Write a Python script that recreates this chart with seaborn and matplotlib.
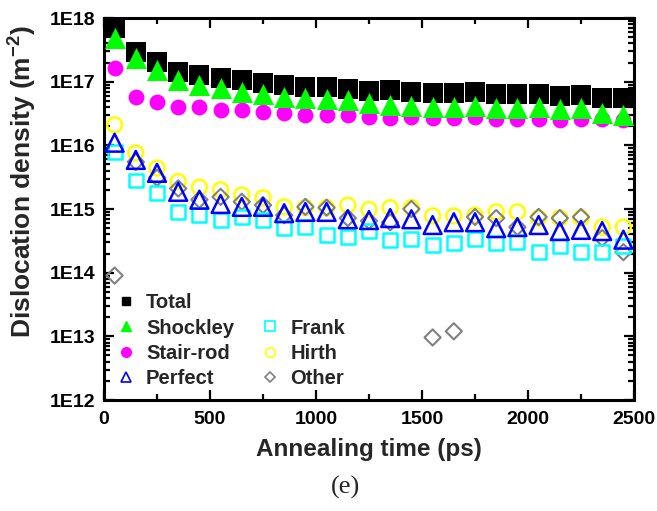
import numpy as np
import matplotlib
matplotlib.use("Agg")
import matplotlib.pyplot as plt
import seaborn as sns
from matplotlib.lines import Line2D
from matplotlib.ticker import LogLocator, MultipleLocator, NullFormatter

time = [50, 150, 250, 350, 450, 550, 650, 750, 850, 950, 1050, 1150, 1250,
        1350, 1450, 1550, 1650, 1750, 1850, 1950, 2050, 2150, 2250, 2350, 2450]

total = [7.0e17, 2.9e17, 2.05e17, 1.42e17, 1.27e17, 1.14e17, 1.07e17, 9.5e16, 8.9e16, 8.3e16, 8.3e16, 7.7e16, 7.1e16,
         7.4e16, 7.0e16, 6.7e16, 6.7e16, 7.0e16, 6.4e16, 6.4e16, 6.4e16, 5.9e16, 6.2e16, 5.6e16, 5.6e16]
shockley = [4.9e17, 2.35e17, 1.5e17, 1.07e17, 8.9e16, 7.9e16, 6.9e16, 6.4e16, 5.7e16, 5.5e16, 5.3e16, 5.2e16, 4.6e16,
            4.3e16, 4.2e16, 4.0e16, 4.0e16, 4.2e16, 3.9e16, 3.9e16, 4.0e16, 3.7e16, 3.9e16, 3.2e16, 3.0e16]
stair_rod = [1.63e17, 5.7e16, 4.8e16, 4.0e16, 4.0e16, 3.6e16, 3.6e16, 3.35e16, 3.2e16, 3.0e16, 3.0e16, 3.0e16, 2.8e16,
             2.7e16, 2.8e16, 2.7e16, 2.7e16, 2.8e16, 2.6e16, 2.6e16, 2.6e16, 2.5e16, 2.6e16, 2.6e16, 2.5e16]
frank = [7.9e15, 2.8e15, 1.8e15, 8.9e14, 8.0e14, 6.7e14, 7.5e14, 6.7e14, 5.0e14, 5.2e14, 3.9e14, 3.6e14, 4.5e14,
         3.3e14, 3.4e14, 2.7e14, 2.9e14, 3.4e14, 2.9e14, 3.0e14, 2.1e14, 2.6e14, 2.1e14, 2.1e14, 2.6e14]
hirth = [2.1e16, 7.6e15, 4.4e15, 2.7e15, 2.2e15, 2.0e15, 1.66e15, 1.5e15, 1.08e15, 1.05e15, 1.05e15, 1.15e15, 9.8e14,
         1.05e15, 1.05e15, 7.8e14, 7.8e14, 8.0e14, 9.0e14, 9.0e14, 7.2e14, 7.2e14, 7.2e14, 5.2e14, 5.2e14]
perfect = [1.1e16, 5.9e15, 3.7e15, 1.86e15, 1.4e15, 1.2e15, 1.08e15, 1.08e15, 8.6e14, 9.0e14, 9.0e14, 6.9e14, 6.7e14,
           7.2e14, 6.9e14, 5.6e14, 6.2e14, 6.2e14, 5.0e14, 5.2e14, 5.6e14, 4.5e14, 4.7e14, 4.5e14, 3.3e14]
other = [9.0e13, 5.5e15, 3.1e15, 2.1e15, 1.4e15, 1.55e15, 1.3e15, 1.15e15, 8.0e14, 1.08e15, 1.05e15, 7.2e14, 6.5e14,
         6.2e14, 1.0e15, 9.6e12, 1.2e13, 7.5e14, 7.2e14, 5.2e14, 7.5e14, 7.2e14, 7.5e14, 3.5e14, 2.1e14]

ytick_vals = [1e12, 1e13, 1e14, 1e15, 1e16, 1e17, 1e18]
ytick_labels = ["1E12", "1E13", "1E14", "1E15", "1E16", "1E17", "1E18"]
xtick_vals = [0, 500, 1000, 1500, 2000, 2500]

sns.set_style("ticks")
plt.rcParams['font.family'] = ['Liberation Sans', 'DejaVu Sans']
plt.rcParams['font.weight'] = 'bold'
plt.rcParams['mathtext.fontset'] = 'custom'
plt.rcParams['mathtext.rm'] = 'Liberation Sans:bold'
plt.rcParams['mathtext.bf'] = 'Liberation Sans:bold'
plt.rcParams['mathtext.it'] = 'Liberation Sans:bold'

fig = plt.figure(figsize=(6.57, 5.11), dpi=100)
ax = fig.add_axes([104/657, 1 - 400/511, 530/657, 382/511])

def filled(y, marker, color, s):
    sns.scatterplot(x=time, y=y, ax=ax, marker=marker, s=s, color=color,
                    edgecolor=color, linewidth=0, zorder=3, legend=False)

def hollow(y, marker, color, s, lw):
    sns.scatterplot(x=time, y=y, ax=ax, marker=marker, s=s, color=color,
                    facecolor='none', edgecolor=color, linewidth=lw, zorder=3, legend=False)

filled(total, 's', 'black', 190)
filled(stair_rod, 'o', '#ff00ff', 130)
filled(shockley, '^', '#00ff00', 230)
hollow(hirth, 'o', '#ffff00', 115, 1.8)
hollow(other, 'D', '#808080', 68, 1.5)
hollow(frank, 's', '#00ffff', 100, 1.8)
hollow(perfect, '^', '#0000ff', 165, 1.8)

ax.set_yscale('log')
ax.set_ylim(1e12, 1e18)
ax.set_xlim(0, 2500)
ax.set_yticks(ytick_vals)
ax.set_yticklabels(ytick_labels)
ax.yaxis.set_minor_locator(LogLocator(base=10, subs=np.arange(2, 10), numticks=20))
ax.yaxis.set_minor_formatter(NullFormatter())
ax.set_xticks(xtick_vals)
ax.set_xticklabels([str(v) for v in xtick_vals])
ax.xaxis.set_minor_locator(MultipleLocator(250))

ax.tick_params(which='both', direction='in', top=True, right=True, width=1.6, colors='black')
ax.tick_params(which='major', length=7, labelsize=14)
ax.tick_params(axis='x', which='major', pad=8)
ax.tick_params(axis='y', which='major', pad=6)
ax.tick_params(which='minor', length=4)
for lab in ax.get_xticklabels() + ax.get_yticklabels():
    lab.set_fontweight('bold')
for sp in ax.spines.values():
    sp.set_linewidth(2.2)
    sp.set_color('black')

ax.set_xlabel("Annealing time (ps)", fontsize=17.5, fontweight='bold', labelpad=7)
ax.set_ylabel("Dislocation density (m$^{\\mathbf{-2}}$)", fontsize=19, fontweight='bold')
ax.yaxis.set_label_coords(-0.122, 0.573)

handles = [
    Line2D([], [], ls='none', marker='s', ms=6, mfc='black', mec='black'),
    Line2D([], [], ls='none', marker='^', ms=7.5, mfc='#00ff00', mec='#00ff00'),
    Line2D([], [], ls='none', marker='o', ms=7, mfc='#ff00ff', mec='#ff00ff'),
    Line2D([], [], ls='none', marker='^', ms=7.5, mfc='none', mec='#0000ff', mew=1.2),
    Line2D([], [], ls='none', marker='none'),
    Line2D([], [], ls='none', marker='s', ms=6.5, mfc='none', mec='#00ffff', mew=1.2),
    Line2D([], [], ls='none', marker='o', ms=7, mfc='none', mec='#ffff00', mew=1.2),
    Line2D([], [], ls='none', marker='D', ms=5.5, mfc='none', mec='#808080', mew=1.2),
]
labels = ["Total", "Shockley", "Stair-rod", "Perfect", "", "Frank", "Hirth", "Other"]
leg = ax.legend(handles, labels, ncol=2, loc='lower left', bbox_to_anchor=(-0.008, -0.015),
                frameon=False, handlelength=0.8, handletextpad=0.6, columnspacing=1.4,
                labelspacing=0.3, borderaxespad=0.5,
                prop={'family': ['Liberation Sans'], 'weight': 'bold', 'size': 14.5})

fig.text(345/657, 1 - 487/511, "(e)", ha='center', va='center', fontsize=19,
         family=['Liberation Serif'], fontweight='normal')

fig.savefig("out.png", dpi=100)
